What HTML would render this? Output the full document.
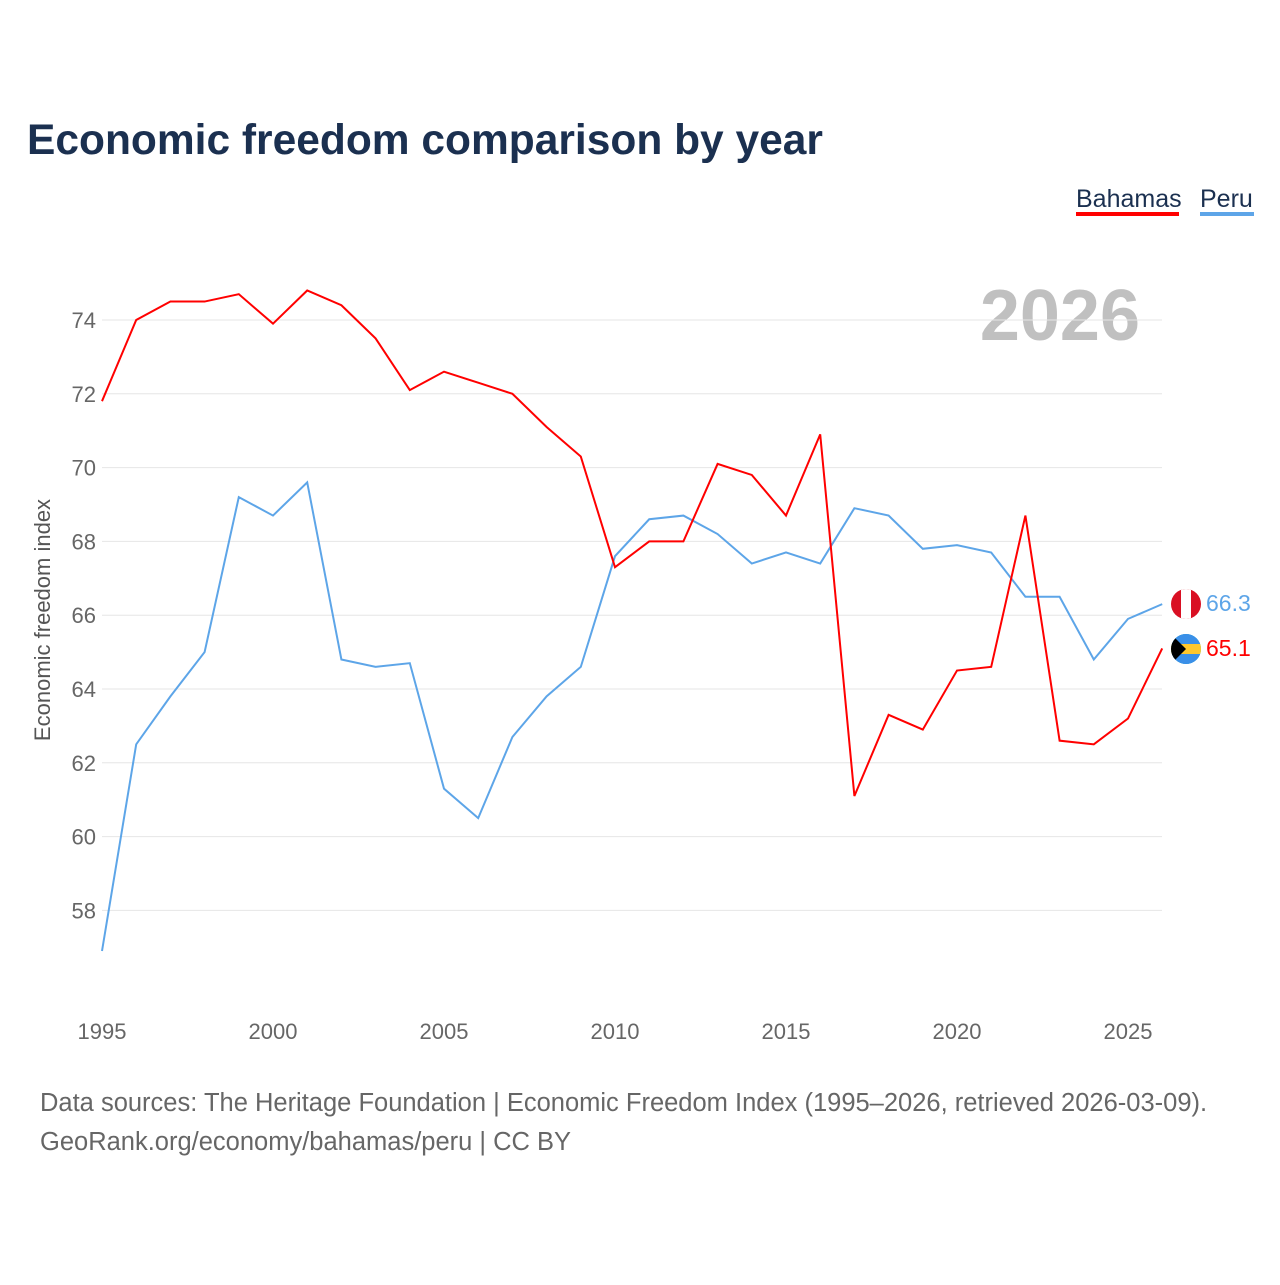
<!DOCTYPE html>
<html><head><meta charset="utf-8"><style>
body{margin:0;background:#fff;font-family:"Liberation Sans",sans-serif;}
svg text{font-family:"Liberation Sans",sans-serif;}
</style></head><body>
<svg width="1280" height="1280" viewBox="0 0 1280 1280">
<text x="27" y="154" font-size="42.5" font-weight="bold" fill="#1b3050">Economic freedom comparison by year</text>
<g>
<text x="1076" y="207" font-size="25" fill="#1b3050">Bahamas</text>
<rect x="1076" y="212" width="103" height="4" fill="#ff0000"/>
<text x="1200" y="207" font-size="25" fill="#1b3050">Peru</text>
<rect x="1200" y="212" width="54" height="4" fill="#5da5e8"/>
</g>
<text x="1140" y="340" font-size="72" font-weight="bold" fill="#c0c0c0" text-anchor="end">2026</text>
<g id="grid"></g>
<g id="xt"></g>
<text transform="translate(50,620) rotate(-90)" font-size="22" fill="#555" text-anchor="middle">Economic freedom index</text>
<g id="lines"></g>
<g>
<clipPath id="cp1"><circle cx="1186" cy="604" r="15"/></clipPath>
<g clip-path="url(#cp1)"><rect x="1171" y="589" width="30" height="30" fill="#d91023"/><rect x="1181" y="589" width="10" height="30" fill="#fff"/></g>
</g>
<g>
<clipPath id="cp2"><circle cx="1186" cy="649" r="15"/></clipPath>
<g clip-path="url(#cp2)"><rect x="1171" y="634" width="30" height="30" fill="#00abc9"/><rect x="1171" y="644" width="30" height="10" fill="#ffc72c"/><rect x="1171" y="634" width="30" height="10" fill="#3a8fe8"/><rect x="1171" y="654" width="30" height="10" fill="#3a8fe8"/><polygon points="1171,634 1186,649 1171,664" fill="#000"/></g>
</g>
<text x="1206" y="611" font-size="23" fill="#5da5e8">66.3</text>
<text x="1206" y="656" font-size="23" fill="#ff0000">65.1</text>
<text x="40" y="1111" font-size="25.5" fill="#666">Data sources: The Heritage Foundation | Economic Freedom Index (1995–2026, retrieved 2026-03-09).</text>
<text x="40" y="1150" font-size="25.5" fill="#666">GeoRank.org/economy/bahamas/peru | CC BY</text>
</svg>
<script>
const years=[1995,1996,1997,1998,1999,2000,2001,2002,2003,2004,2005,2006,2007,2008,2009,2010,2011,2012,2013,2014,2015,2016,2017,2018,2019,2020,2021,2022,2023,2024,2025,2026];
const bahamas=[71.8,74.0,74.5,74.5,74.7,73.9,74.8,74.4,73.5,72.1,72.6,72.3,72.0,71.1,70.3,67.3,68.0,68.0,70.1,69.8,68.7,70.9,61.1,63.3,62.9,64.5,64.6,68.7,62.6,62.5,63.2,65.1];
const peru=[56.9,62.5,63.8,65.0,69.2,68.7,69.6,64.8,64.6,64.7,61.3,60.5,62.7,63.8,64.6,67.6,68.6,68.7,68.2,67.4,67.7,67.4,68.9,68.7,67.8,67.9,67.7,66.5,66.5,64.8,65.9,66.3];
const yTicks=[58,60,62,64,66,68,70,72,74];
const xTicks=[1995,2000,2005,2010,2015,2020,2025];
const NS="http://www.w3.org/2000/svg";
const x=v=>102+(v-1995)*(1026/30);
const y=v=>320+(74-v)*36.9;
const grid=document.getElementById('grid');
yTicks.forEach(t=>{
 const l=document.createElementNS(NS,'line');
 l.setAttribute('x1',102);l.setAttribute('x2',1162);l.setAttribute('y1',y(t));l.setAttribute('y2',y(t));
 l.setAttribute('stroke','#e6e6e6');l.setAttribute('stroke-width','1');
 
 
 grid.appendChild(l);
 const tx=document.createElementNS(NS,'text');
 tx.setAttribute('x',96);tx.setAttribute('y',y(t)+8);tx.setAttribute('text-anchor','end');
 tx.setAttribute('font-size','22');tx.setAttribute('fill','#666');tx.textContent=t;
 
 
 grid.appendChild(tx);
});
const xt=document.getElementById('xt');
xTicks.forEach(t=>{
 const tx=document.createElementNS(NS,'text');
 tx.setAttribute('x',x(t));tx.setAttribute('y',1039);tx.setAttribute('text-anchor','middle');
 tx.setAttribute('font-size','22');tx.setAttribute('fill','#666');tx.textContent=t;
 
 
 xt.appendChild(tx);
});
const lines=document.getElementById('lines');
function draw(vals,color,name){
 const p=document.createElementNS(NS,'polyline');
 p.setAttribute('points',vals.map((v,i)=>x(years[i])+','+y(v)).join(' '));
 p.setAttribute('fill','none');p.setAttribute('stroke',color);p.setAttribute('stroke-width','2');
 
 
 lines.appendChild(p);
}
draw(peru,'#5da5e8','peru-line');
draw(bahamas,'#ff0000','bahamas-line');
</script>
</body></html>
